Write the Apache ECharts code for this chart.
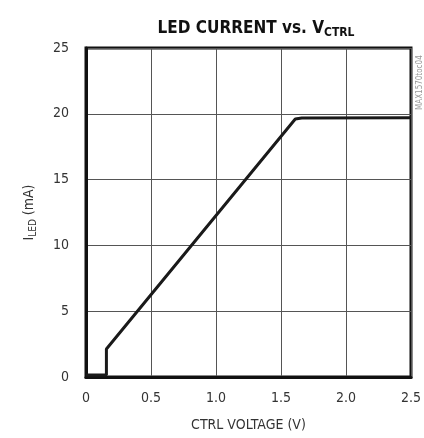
<!DOCTYPE html>
<html>
<head>
<meta charset="utf-8">
<script src="https://cdn.jsdelivr.net/npm/echarts@6/dist/echarts.min.js"></script>
<style>
  html, body { margin: 0; padding: 0; background: #fff; }
</style>
</head>
<body>
<div id="chart" style="width:424px;height:438px;"></div>
<script>
// curve points: [ctrl voltage (V), led current (mA)]
const ctrlVoltage = [0, 0.157, 0.157, 1.61, 1.66, 2.5];
const ledCurrent = [0.15, 0.15, 2.13, 19.6, 19.68, 19.7];
const xTicks = ["0", "0.5", "1.0", "1.5", "2.0", "2.5"];
const yTicks = ["0", "5", "10", "15", "20", "25"];

const font = "'Liberation Sans Narrow', 'DejaVu Sans Condensed', 'Arial Narrow', sans-serif";
const chart = echarts.init(document.getElementById("chart"));

const option = {
  animation: false,
  title: {
    text: "{a|LED CURRENT vs. V}{b|CTRL}",
    left: 251,
    top: 13,
    textAlign: "center",
    textStyle: {
      rich: {
        a: { fontFamily: font, fontWeight: "bold", fontSize: 17, color: "#111" },
        b: { fontFamily: font, fontWeight: "bold", fontSize: 12, color: "#111", padding: [9, 0, 0, 0] }
      }
    }
  },
  grid: {
    left: 86,
    right: 9,
    top: 48,
    bottom: 61,
    show: true,
    borderColor: "#111",
    borderWidth: 3
  },
  xAxis: {
    type: "value",
    min: 0,
    max: 2.5,
    interval: 0.5,
    name: "CTRL VOLTAGE (V)",
    nameLocation: "middle",
    nameGap: 41,
    nameTextStyle: { fontFamily: font, fontSize: 14, color: "#333" },
    axisLine: { show: true, lineStyle: { color: "#111", width: 3 } },
    axisTick: { show: false },
    splitLine: { show: true, lineStyle: { color: "#555", width: 1 } },
    axisLabel: {
      fontFamily: font,
      fontSize: 14,
      color: "#333",
      margin: 14,
      formatter: (v) => xTicks[Math.round(v / 0.5)]
    }
  },
  yAxis: {
    type: "value",
    min: 0,
    max: 25,
    interval: 5,
    name: "{a|I}{b|LED}{a| (mA)}",
    nameLocation: "middle",
    nameGap: 48,
    nameTextStyle: {
      rich: {
        a: { fontFamily: font, fontSize: 14, color: "#333" },
        b: { fontFamily: font, fontSize: 10, color: "#333", padding: [7, 0, 0, 0] }
      }
    },
    axisLine: { show: true, lineStyle: { color: "#111", width: 3 } },
    axisTick: { show: false },
    splitLine: { show: true, lineStyle: { color: "#555", width: 1 } },
    axisLabel: {
      fontFamily: font,
      fontSize: 14,
      color: "#333",
      margin: 17,
      formatter: (v) => yTicks[Math.round(v / 5)]
    }
  },
  series: [
    {
      type: "line",
      data: ctrlVoltage.map((x, i) => [x, ledCurrent[i]]),
      showSymbol: false,
      lineStyle: { color: "#1a1a1a", width: 3 }
    }
  ],
  graphic: [
    {
      type: "text",
      x: 420,
      y: 110,
      rotation: Math.PI / 2,
      style: {
        text: "MAX1570toc04",
        fontFamily: font,
        fontSize: 8,
        fill: "#999",
        align: "left",
        verticalAlign: "middle"
      }
    }
  ]
};

chart.setOption(option);
</script>
</body>
</html>
